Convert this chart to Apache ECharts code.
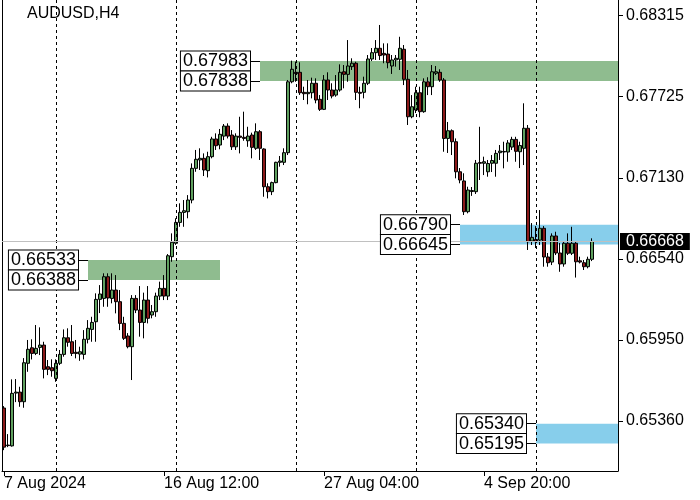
<!DOCTYPE html>
<html>
<head>
<meta charset="utf-8">
<script src="https://cdn.jsdelivr.net/npm/echarts@6/dist/echarts.min.js"></script>
<style>
html,body{margin:0;padding:0;background:#fff;}
#chart{width:700px;height:500px;}
</style>
</head>
<body>
<div id="chart"></div>
<script>
// ---------- data ----------
const symbolName = 'AUDUSD,H4';

// bar index of labelled x ticks and their texts
const xTickIndex = [0, 40, 80, 120];
const xTickLabels = ['7 Aug 2024', '16 Aug 12:00', '27 Aug 04:00', '4 Sep 20:00'];

// bar index of week starts (dashed separators)
const weekStartIndex = [13, 43, 73, 103, 133];

// price scale tick values
const yTickValues = [0.65360, 0.65950, 0.66540, 0.67130, 0.67725, 0.68315];

// current bid
const lastPrice = 0.66668;

// supply / demand zones
const zoneHigh  = [0.66533, 0.67983, 0.66790, 0.65340];
const zoneLow   = [0.66388, 0.67838, 0.66645, 0.65195];
const zoneStart = [21, 64, 114, 133];      // bar index where zone begins
const zoneEnd   = [54, null, null, null];  // null = extends to right edge
const zoneKind  = ['demand', 'supply', 'demand2', 'demand2'];

// candles: [open, close, low, high]
const ohlc = [
[0.65454,0.65169,0.65147,0.65468],
[0.65184,0.65180,0.65169,0.65264],
[0.65178,0.65561,0.65173,0.65663],
[0.65563,0.65570,0.65497,0.65665],
[0.65570,0.65500,0.65463,0.65609],
[0.65500,0.65784,0.65456,0.65818],
[0.65780,0.65882,0.65718,0.65950],
[0.65893,0.65852,0.65808,0.65955],
[0.65852,0.65889,0.65840,0.66059],
[0.65896,0.65913,0.65840,0.66042],
[0.65913,0.65736,0.65670,0.65937],
[0.65755,0.65736,0.65694,0.65804],
[0.65748,0.65726,0.65682,0.65809],
[0.65670,0.65780,0.65645,0.65809],
[0.65780,0.65845,0.65767,0.65877],
[0.65845,0.65966,0.65828,0.66027],
[0.65966,0.65933,0.65901,0.66035],
[0.65937,0.65852,0.65833,0.66059],
[0.65860,0.65852,0.65816,0.65950],
[0.65847,0.65864,0.65798,0.65901],
[0.65845,0.65955,0.65808,0.66022],
[0.65955,0.66035,0.65925,0.66095],
[0.66027,0.66078,0.65937,0.66119],
[0.66083,0.66246,0.65937,0.66290],
[0.66246,0.66285,0.66146,0.66350],
[0.66253,0.66411,0.66192,0.66436],
[0.66411,0.66256,0.66192,0.66436],
[0.66253,0.66314,0.66217,0.66436],
[0.66314,0.66229,0.66144,0.66423],
[0.66229,0.66071,0.66022,0.66314],
[0.66071,0.65962,0.65950,0.66119],
[0.65979,0.65901,0.65889,0.66000],
[0.65901,0.66253,0.65658,0.66277],
[0.66253,0.66168,0.66146,0.66277],
[0.66168,0.66078,0.65974,0.66343],
[0.66078,0.66241,0.65962,0.66295],
[0.66241,0.66108,0.66071,0.66343],
[0.66132,0.66156,0.66108,0.66205],
[0.66156,0.66270,0.66119,0.66295],
[0.66270,0.66326,0.66241,0.66375],
[0.66326,0.66270,0.66241,0.66423],
[0.66270,0.66564,0.66241,0.66576],
[0.66557,0.66662,0.66520,0.66727],
[0.66655,0.66807,0.66643,0.66837],
[0.66807,0.66880,0.66775,0.66946],
[0.66880,0.66892,0.66775,0.66970],
[0.66885,0.66970,0.66837,0.67006],
[0.66970,0.67201,0.66946,0.67237],
[0.67201,0.67267,0.67176,0.67335],
[0.67262,0.67274,0.67189,0.67347],
[0.67274,0.67189,0.67145,0.67310],
[0.67184,0.67286,0.67135,0.67322],
[0.67286,0.67415,0.67274,0.67431],
[0.67415,0.67366,0.67335,0.67456],
[0.67371,0.67449,0.67340,0.67488],
[0.67436,0.67509,0.67407,0.67524],
[0.67509,0.67436,0.67419,0.67529],
[0.67444,0.67358,0.67335,0.67480],
[0.67358,0.67436,0.67335,0.67456],
[0.67436,0.67427,0.67310,0.67577],
[0.67427,0.67419,0.67402,0.67614],
[0.67402,0.67436,0.67358,0.67504],
[0.67444,0.67354,0.67274,0.67461],
[0.67347,0.67468,0.67335,0.67529],
[0.67468,0.67347,0.67262,0.67480],
[0.67342,0.67067,0.66994,0.67347],
[0.67067,0.67031,0.66982,0.67092],
[0.67031,0.67097,0.67006,0.67104],
[0.67097,0.67245,0.67092,0.67249],
[0.67245,0.67254,0.67213,0.67291],
[0.67245,0.67315,0.67225,0.67347],
[0.67315,0.67832,0.67298,0.67845],
[0.67832,0.67923,0.67821,0.67986],
[0.67901,0.67892,0.67832,0.67978],
[0.67901,0.67752,0.67736,0.67974],
[0.67755,0.67745,0.67699,0.67796],
[0.67745,0.67755,0.67668,0.67845],
[0.67752,0.67821,0.67711,0.67862],
[0.67821,0.67699,0.67675,0.67857],
[0.67704,0.67631,0.67619,0.67735],
[0.67631,0.67845,0.67626,0.67881],
[0.67845,0.67772,0.67699,0.67901],
[0.67772,0.67728,0.67711,0.67821],
[0.67735,0.67772,0.67723,0.67881],
[0.67772,0.67901,0.67760,0.67959],
[0.67905,0.67886,0.67784,0.67954],
[0.67886,0.67947,0.67832,0.68136],
[0.67942,0.67967,0.67918,0.68003],
[0.67967,0.67755,0.67699,0.67978],
[0.67755,0.67748,0.67639,0.67796],
[0.67755,0.67821,0.67711,0.67869],
[0.67821,0.67998,0.67808,0.68027],
[0.67998,0.68044,0.67983,0.68078],
[0.68044,0.68076,0.67991,0.68136],
[0.68076,0.68023,0.67991,0.68246],
[0.68039,0.68027,0.67967,0.68112],
[0.68034,0.67971,0.67930,0.68112],
[0.67947,0.67991,0.67889,0.68027],
[0.67991,0.68003,0.67942,0.68027],
[0.67996,0.68076,0.67918,0.68160],
[0.68069,0.67850,0.67808,0.68100],
[0.67850,0.67577,0.67517,0.67918],
[0.67577,0.67650,0.67566,0.67735],
[0.67626,0.67752,0.67604,0.67796],
[0.67752,0.67614,0.67573,0.67796],
[0.67614,0.67832,0.67606,0.67857],
[0.67832,0.67796,0.67735,0.67865],
[0.67796,0.67905,0.67735,0.67954],
[0.67894,0.67905,0.67881,0.67947],
[0.67901,0.67845,0.67832,0.67923],
[0.67845,0.67419,0.67322,0.67859],
[0.67419,0.67475,0.67313,0.67539],
[0.67475,0.67395,0.67298,0.67485],
[0.67395,0.67176,0.67128,0.67419],
[0.67176,0.67116,0.67092,0.67203],
[0.67109,0.66885,0.66861,0.67165],
[0.66885,0.67043,0.66873,0.67067],
[0.67032,0.67039,0.67000,0.67065],
[0.67031,0.67238,0.67014,0.67262],
[0.67243,0.67238,0.67116,0.67504],
[0.67238,0.67249,0.67152,0.67286],
[0.67176,0.67236,0.67140,0.67262],
[0.67238,0.67258,0.67174,0.67298],
[0.67238,0.67310,0.67140,0.67335],
[0.67315,0.67327,0.67262,0.67371],
[0.67320,0.67324,0.67201,0.67395],
[0.67320,0.67386,0.67249,0.67407],
[0.67356,0.67412,0.67335,0.67431],
[0.67412,0.67325,0.67249,0.67431],
[0.67322,0.67367,0.67203,0.67395],
[0.67347,0.67493,0.67225,0.67675],
[0.67493,0.66666,0.66606,0.67517],
[0.66671,0.66698,0.66642,0.66802],
[0.66682,0.66667,0.66620,0.66780],
[0.66678,0.66764,0.66642,0.66897],
[0.66764,0.66555,0.66484,0.66780],
[0.66555,0.66513,0.66484,0.66584],
[0.66518,0.66708,0.66496,0.66727],
[0.66708,0.66584,0.66569,0.66739],
[0.66584,0.66504,0.66447,0.66657],
[0.66504,0.66655,0.66484,0.66666],
[0.66655,0.66582,0.66569,0.66727],
[0.66582,0.66655,0.66569,0.66775],
[0.66655,0.66520,0.66405,0.66671],
[0.66527,0.66518,0.66508,0.66557],
[0.66513,0.66484,0.66460,0.66533],
[0.66484,0.66538,0.66472,0.66557],
[0.66538,0.66668,0.66525,0.66691]
];

// ---------- presentation ----------
const FONT = 'Liberation Sans';
const X_MIN = -0.5, X_MAX = 153.5;   // visible bar slots (incl. right margin)
const Y_MIN = 0.64995, Y_MAX = 0.68428;
const CONNECT = 2.5;                  // connector length in bar units
const zoneColors = { demand: '#8fbc8f', supply: '#8fbc8f', demand2: '#87ceeb' };

const seriesData = ohlc.map((r, i) => [i, r[0], r[1], r[2], r[3]]);

const boxLabel = (txt) => ({
  show: true, position: 'start', distance: 0, formatter: txt,
  fontFamily: FONT, fontSize: 18, lineHeight: 19, color: '#000',
  backgroundColor: '#fff', borderColor: '#000', borderWidth: 1,
  padding: [0, 2, 0, 2]
});

const markLineData = [];
weekStartIndex.forEach(v => markLineData.push({
  xAxis: v, lineStyle: { color: '#000', type: [3, 3], width: 1 }, label: { show: false }
}));
markLineData.push({
  yAxis: lastPrice,
  lineStyle: { color: '#c0c0c0', type: 'solid', width: 1 },
  label: {
    show: true, position: 'end', distance: 2, formatter: lastPrice.toFixed(5),
    fontFamily: FONT, fontSize: 16, lineHeight: 17, color: '#fff',
    backgroundColor: '#000', padding: [0, 6, 0, 6]
  }
});
zoneStart.forEach((s, k) => {
  [zoneHigh[k], zoneLow[k]].forEach(p => {
    markLineData.push([
      { coord: [s - CONNECT, p], lineStyle: { color: '#000', type: 'solid', width: 1 }, label: boxLabel(p.toFixed(5)) },
      { coord: [s, p] }
    ]);
  });
});

const markAreaData = zoneStart.map((s, k) => [
  { coord: [s, zoneHigh[k]], itemStyle: { color: zoneColors[zoneKind[k]], opacity: 1 } },
  { coord: [zoneEnd[k] == null ? X_MAX : zoneEnd[k], zoneLow[k]] }
]);

const chart = echarts.init(document.getElementById('chart'), null, { renderer: 'canvas' });
chart.setOption({
  animation: false,
  backgroundColor: '#fff',
  title: {
    text: symbolName, left: 27, top: 6, padding: 0,
    textStyle: { fontFamily: FONT, fontSize: 16, fontWeight: 'normal', color: '#000' }
  },
  grid: { left: 2, right: 82, top: 0, bottom: 29, containLabel: false },
  xAxis: {
    type: 'value', min: X_MIN, max: X_MAX,
    axisLine: { show: true, onZero: false, lineStyle: { color: '#000', width: 1 } },
    axisTick: { show: true, customValues: xTickIndex, length: 5, lineStyle: { color: '#000' } },
    axisLabel: {
      customValues: xTickIndex,
      formatter: v => { const k = xTickIndex.indexOf(Math.round(v)); return k >= 0 ? xTickLabels[k] : ''; },
      align: 'left', margin: 5, fontFamily: FONT, fontSize: 16, color: '#000'
    },
    splitLine: { show: false }
  },
  yAxis: [{
    type: 'value', position: 'right', min: Y_MIN, max: Y_MAX, scale: true,
    axisLine: { show: true, onZero: false, lineStyle: { color: '#000', width: 1 } },
    axisTick: { show: true, customValues: yTickValues, length: 5, lineStyle: { color: '#000' } },
    axisLabel: {
      customValues: yTickValues, formatter: v => v.toFixed(5),
      margin: 8, fontFamily: FONT, fontSize: 16, color: '#000'
    },
    splitLine: { show: false }
  }, {
    type: 'value', position: 'left', min: Y_MIN, max: Y_MAX, scale: true,
    axisLine: { show: true, onZero: false, lineStyle: { color: '#000', width: 1 } },
    axisTick: { show: false }, axisLabel: { show: false }, splitLine: { show: false }
  }],
  series: [{
    type: 'candlestick',
    yAxisIndex: 0,
    data: seriesData,
    barWidth: 3,
    itemStyle: {
      color: '#5fa05f', color0: '#8b1a1a',
      borderColor: '#000', borderColor0: '#000', borderWidth: 1
    },
    markArea: { silent: true, label: { show: false }, data: markAreaData },
    markLine: { silent: true, precision: 5, symbol: ['none', 'none'], animation: false, data: markLineData }
  }]
});
</script>
</body>
</html>
